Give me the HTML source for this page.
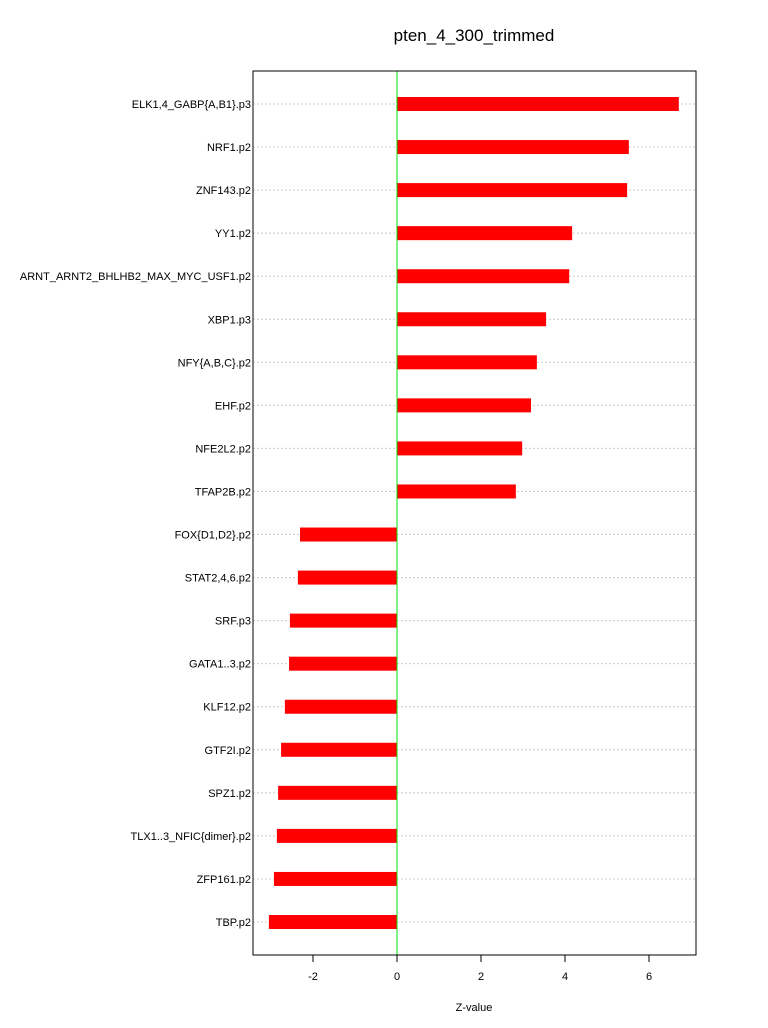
<!DOCTYPE html>
<html><head><meta charset="utf-8"><style>
body{margin:0;background:#fff;}
svg{display:block;font-family:"Liberation Sans",sans-serif;}
</style></head><body>
<svg id="chart" width="768" height="1028">
<text x="474" y="41" font-size="17" text-anchor="middle">pten_4_300_trimmed</text>
<g id="grid"></g><g id="bars"></g><g id="labels"></g><g id="xaxis"></g>
<line x1="397" x2="397" y1="71" y2="955" stroke="#00e000" stroke-width="1"/>
<rect x="253" y="71" width="443" height="884" fill="none" stroke="#000"/>
<text x="474" y="1011" font-size="11" text-anchor="middle">Z-value</text>
</svg>
<script>
const categories=["ELK1,4_GABP{A,B1}.p3","NRF1.p2","ZNF143.p2","YY1.p2","ARNT_ARNT2_BHLHB2_MAX_MYC_USF1.p2","XBP1.p3","NFY{A,B,C}.p2","EHF.p2","NFE2L2.p2","TFAP2B.p2","FOX{D1,D2}.p2","STAT2,4,6.p2","SRF.p3","GATA1..3.p2","KLF12.p2","GTF2I.p2","SPZ1.p2","TLX1..3_NFIC{dimer}.p2","ZFP161.p2","TBP.p2"];
const values=[6.71,5.52,5.48,4.17,4.10,3.55,3.33,3.19,2.98,2.83,-2.31,-2.36,-2.55,-2.57,-2.67,-2.76,-2.83,-2.86,-2.93,-3.05];
const ticks=[-2,0,2,4,6];
const ns="http://www.w3.org/2000/svg";
const xS=v=>397+v*42;
const yS=i=>104+i*(922-104)/(categories.length-1);
function mk(t,a,p){const e=document.createElementNS(ns,t);for(const k in a)e.setAttribute(k,a[k]);document.getElementById(p).appendChild(e);return e;}
categories.forEach((c,i)=>{
const y=yS(i);
const g=mk("line",{x1:253,x2:696,y1:y,y2:y,stroke:"#ccc","stroke-dasharray":"2,2"},"grid");


const v=values[i];
const b=mk("rect",{x:Math.min(xS(0),xS(v)),y:y-7,width:Math.abs(xS(v)-xS(0)),height:14,fill:"#ff0000"},"bars");


const t=mk("text",{x:251,y:y+4,"font-size":"11","text-anchor":"end"},"labels");
t.textContent=c;


});
ticks.forEach(v=>{
const x=xS(v);
const l=mk("line",{x1:x,x2:x,y1:955,y2:962,stroke:"#000"},"xaxis");


const t=mk("text",{x:x,y:980,"font-size":"11","text-anchor":"middle"},"xaxis");
t.textContent=v;


});
</script>
</body></html>
